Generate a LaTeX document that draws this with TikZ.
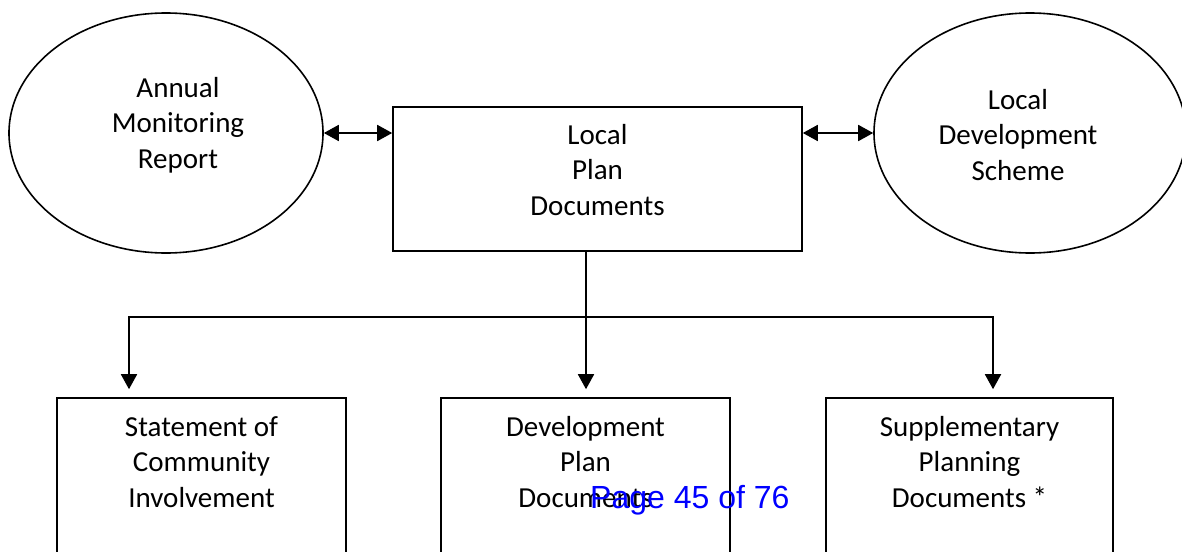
\documentclass[tikz,border=0pt]{standalone}
\usepackage{fontspec}
\setmainfont{Carlito}
\newfontfamily\arialfont{Liberation Sans}
\usetikzlibrary{shapes.geometric,arrows.meta}
\tikzset{
  shape line/.style={draw=black, line width=1.6pt},
  oval/.style={shape line, ellipse, inner sep=0pt, minimum width=314pt, minimum height=240pt},
  docbox/.style={shape line, rectangle, inner sep=0pt},
  txt/.style={font=\fontsize{29}{35.5}\selectfont, align=center, inner sep=0pt, anchor=north},
  conn/.style={line width=1.8pt, black},
  tip/.style={-{Triangle[length=15pt,width=16pt]}},
  dtip/.style={{Triangle[length=15pt,width=16pt]}-{Triangle[length=15pt,width=16pt]}},
}
\newcommand{\fl}{\rule{0pt}{22pt}}
\begin{document}
\begin{tikzpicture}[x=1pt,y=-1pt]
\useasboundingbox (0,0) rectangle (1182,551);
\clip (0,0) rectangle (1182,551);
\fill[white] (0,0) rectangle (1182,551);

\node[oval, label={[txt, xshift=12pt, yshift=-63pt]north:\fl Annual\\Monitoring\\Report}] (amr) at (166,133) {};
\node[oval, minimum width=312pt, label={[txt, xshift=-12pt, yshift=-75pt]north:\fl Local\\Development\\Scheme}] (lds) at (1030,133) {};
\node[docbox, minimum width=409pt, minimum height=144pt, label={[txt, yshift=-16pt]north:\fl Local\\Plan\\Documents}] (lpd) at (597.5,179) {};

\node[docbox, minimum width=289pt, minimum height=200pt, label={[txt, yshift=-17pt]north:\fl Statement of\\Community\\Involvement}] (sci) at (201.5,498) {};
\node[docbox, minimum width=289pt, minimum height=200pt, label={[txt, yshift=-17pt]north:\fl Development\\Plan\\Documents}] (dpd) at (585.5,498) {};
\node[docbox, minimum width=287pt, minimum height=200pt, label={[txt, yshift=-17pt]north:\fl Supplementary\\Planning\\Documents *}] (spd) at (969.5,498) {};

\draw[conn, dtip] (amr.east) -- (amr.east -| lpd.west);
\draw[conn, dtip] (lpd.east |- lds.west) -- (lds.west);

\coordinate (vt) at ([xshift=-11.5pt]lpd.south);
\coordinate (hl) at (129,317);
\coordinate (hr) at (993,317);
\draw[conn, line cap=rect] (hl) -- (hr);
\draw[conn, tip, shorten >=8pt] (vt) -- (vt |- dpd.north);
\draw[conn, tip, shorten >=8pt] (hl) -- (hl |- sci.north);
\draw[conn, tip, shorten >=8pt] (hr) -- (hr |- spd.north);

\node[font=\arialfont\fontsize{32}{36}\selectfont, text=blue, inner sep=0pt, anchor=base west] (pg) at (590,508) {Page 45 of 76};
\end{tikzpicture}
\end{document}
